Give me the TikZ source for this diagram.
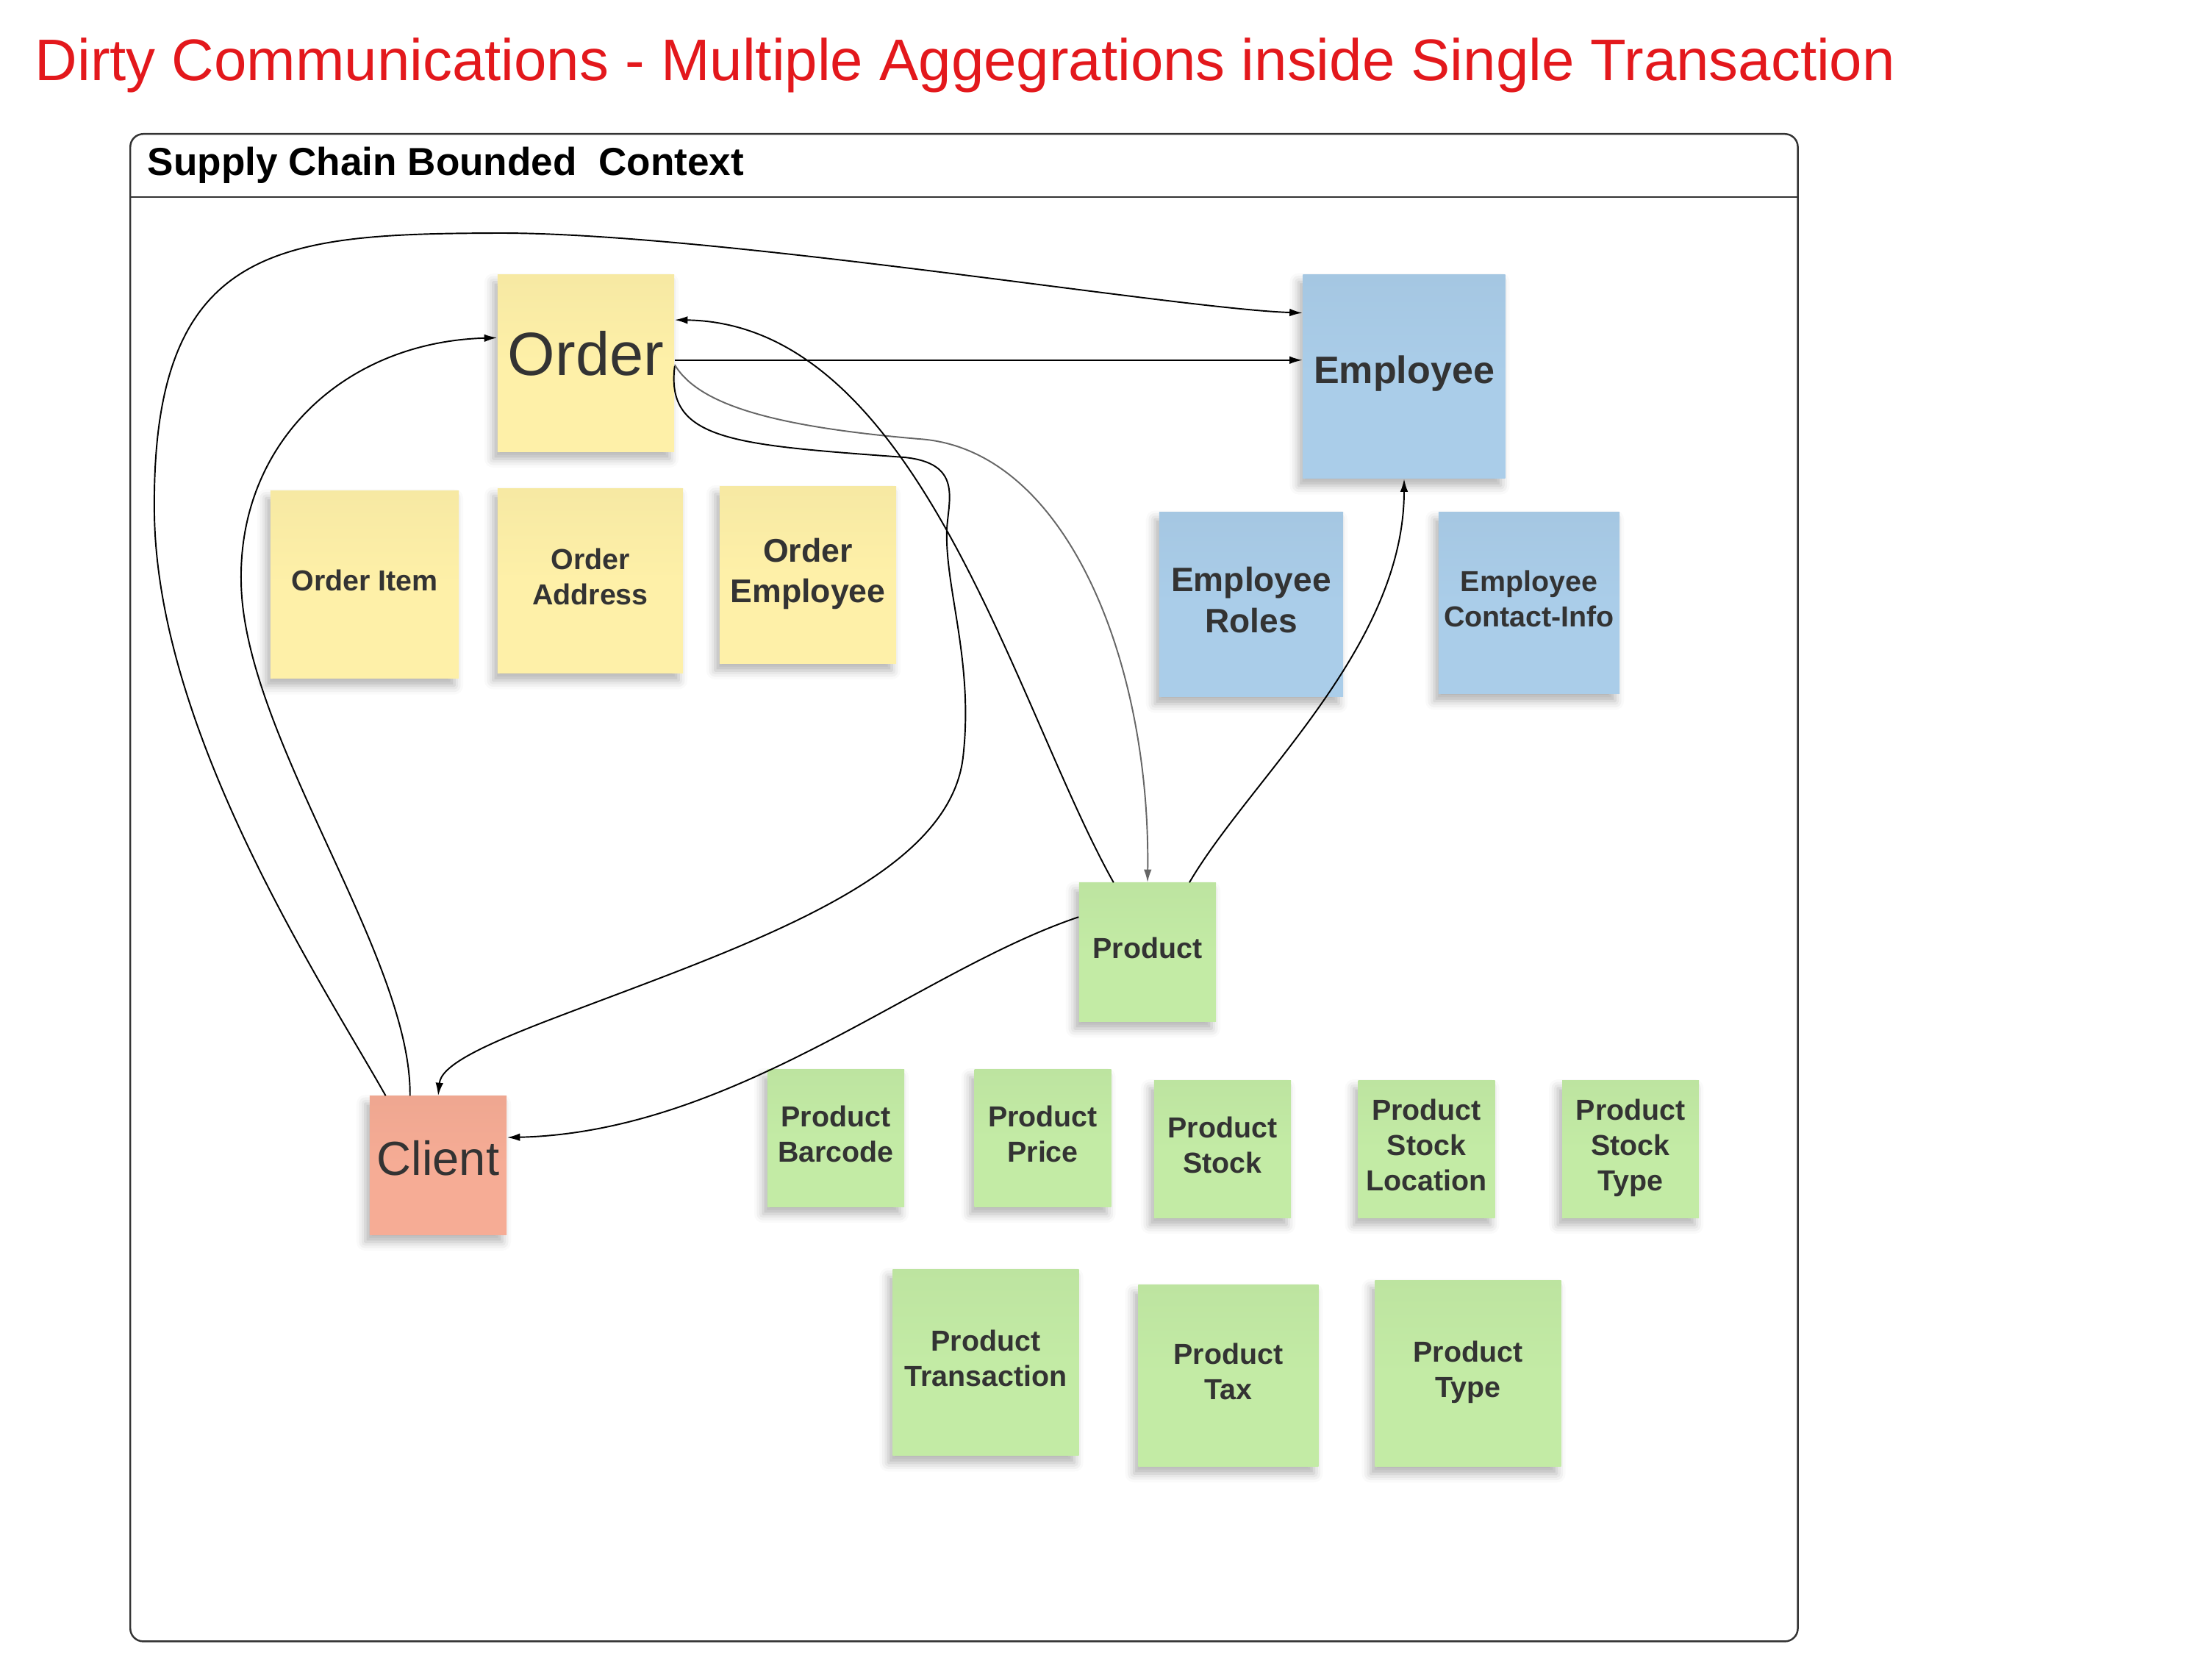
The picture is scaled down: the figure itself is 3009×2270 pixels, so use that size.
\documentclass[tikz,border=0pt]{standalone}
\usepackage{fontspec}
\setmainfont{Liberation Sans}
\usepackage{xcolor}
\usetikzlibrary{arrows.meta, positioning, shadows.blur}

\definecolor{noteyellow}{HTML}{FEF0A8}
\definecolor{noteblue}{HTML}{AACDE9}
\definecolor{notegreen}{HTML}{C3EBA5}
\definecolor{notered}{HTML}{F6AC95}
\definecolor{notetext}{HTML}{333333}
\definecolor{titlered}{HTML}{E3181C}
\definecolor{framegray}{HTML}{333333}
\definecolor{linkgray}{HTML}{666666}

\newcommand{\ctxname}{Supply Chain Bounded~ Context}

\begin{document}
\begin{tikzpicture}[
  x=0.01cm, y=-0.01cm,
  note/.style={rectangle, inner sep=2pt, align=center, text=notetext,
    top color=#1!97!black, bottom color=#1, middle color=#1,
    blur shadow={shadow xshift=-0.6mm, shadow yshift=-1mm, shadow blur radius=1.2mm, shadow opacity=30}},
  notelabel/.style={font=\bfseries\fontsize{11.2}{13.6}\selectfont, text depth=0.12cm},
  arrow/.style={-{Latex[length=5pt,width=3pt]}, line width=0.55pt},
  frame/.style={draw=framegray, line width=0.7pt}
]
\useasboundingbox (0,0) rectangle (3009,2270);

% Title and bounded context
\node[anchor=base west, inner sep=0, text=titlered, font=\fontsize{22.7}{27}\selectfont] (title) at (47,110)
  {Dirty Communications - Multiple Aggegrations inside Single Transaction};
\node[frame, rounded corners=5pt, anchor=north west, minimum width=22.67cm, minimum height=20.49cm] (ctx) at (176,181) {};
\draw[frame] ([yshift=-0.87cm]ctx.north west) -- ([yshift=-0.87cm]ctx.north east);
\node[anchor=base west, inner sep=0, font=\bfseries\fontsize{15.1}{18}\selectfont] (ctxtitle) at (200,239) {\ctxname};

% Order aggregate
\node[note=noteyellow, font=\fontsize{23.6}{28}\selectfont, text depth=0.28cm, minimum size=2.4cm] (order) at (797,494) {Order};
\node[note=noteyellow, notelabel, minimum width=2.56cm, minimum height=2.55cm] (orderitem) at (496,795) {Order Item};
\node[note=noteyellow, notelabel, minimum width=2.52cm, minimum height=2.51cm] (orderaddr) at (803,790) {Order\\Address};
\node[note=noteyellow, font=\bfseries\fontsize{12.7}{15.8}\selectfont, text depth=0.12cm, minimum size=2.4cm] (orderemp) at (1099,782) {Order\\Employee};

% Employee aggregate
\node[note=noteblue, font=\bfseries\fontsize{14.8}{18}\selectfont, text depth=0.19cm, minimum width=2.75cm, minimum height=2.77cm] (employee) at (1910,512) {Employee};
\node[note=noteblue, font=\bfseries\fontsize{13.1}{15.9}\selectfont, text depth=0.12cm, minimum width=2.5cm, minimum height=2.51cm] (emproles) at (1702,822) {Employee\\Roles};
\node[note=noteblue, notelabel, minimum width=2.46cm, minimum height=2.47cm] (empcontact) at (2080,820) {Employee\\Contact-Info};

% Client
\node[note=notered, font=\fontsize{18.5}{22}\selectfont, text depth=0.2cm, minimum width=1.86cm, minimum height=1.88cm] (client) at (596,1585) {Client};

% Product aggregate
\node[note=notegreen, notelabel, minimum width=1.86cm, minimum height=1.88cm] (product) at (1561,1295) {Product};
\node[note=notegreen, notelabel, minimum size=1.86cm] (prodbarcode) at (1137,1548) {Product\\Barcode};
\node[note=notegreen, notelabel, minimum size=1.86cm, right=0.94cm of prodbarcode] (prodprice) {Product\\Price};
\node[note=notegreen, notelabel, minimum size=1.86cm] (prodstock) at (1663,1563) {Product\\Stock};
\node[note=notegreen, notelabel, minimum size=1.86cm, right=0.9cm of prodstock] (prodstockloc) {Product\\Stock\\Location};
\node[note=notegreen, notelabel, minimum size=1.86cm, right=0.9cm of prodstockloc] (prodstocktype) {Product\\Stock\\Type};
\node[note=notegreen, notelabel, minimum size=2.53cm] (prodtrans) at (1341,1853) {Product\\Transaction};
\node[note=notegreen, notelabel, minimum width=2.45cm, minimum height=2.46cm] (prodtax) at (1671,1871) {Product\\Tax};
\node[note=notegreen, notelabel, minimum size=2.53cm] (prodtype) at (1997,1868) {Product\\Type};

% Client references
\draw[arrow] (client.127) .. controls (440,1340) and (215,1000) .. (210,700)
  .. controls (205,330) and (380,318) .. (680,317)
  .. controls (980,317) and (1600,420) .. (employee.148);
\draw[arrow] (client.112) .. controls (560,1300) and (330,1000) .. (328,790)
  .. controls (325,600) and (470,465) .. (order.164);

% Order references
\draw[arrow] (order.2) -- (order.2 -| employee.west);
\draw[arrow] (order.-2) .. controls (905,600) and (1000,605) .. (1230,622)
  .. controls (1310,630) and (1290,680) .. (1288,720)
  .. controls (1285,800) and (1325,900) .. (1310,1030)
  .. controls (1290,1200) and (1000,1290) .. (740,1390)
  .. controls (650,1425) and (600,1450) .. (client.north);
\draw[arrow, linkgray] (order.-1) .. controls (950,550) and (1050,580) .. (1250,597)
  .. controls (1450,610) and (1565,900) .. (product.north);

% Product references
\draw[arrow] (product.116) .. controls (1380,960) and (1250,440) .. (order.26);
\draw[arrow] (product.59) .. controls (1700,1060) and (1910,880) .. (employee.south);
\draw[arrow] (product.153) .. controls (1250,1320) and (1000,1540) .. (client.22);

\end{tikzpicture}
\end{document}
